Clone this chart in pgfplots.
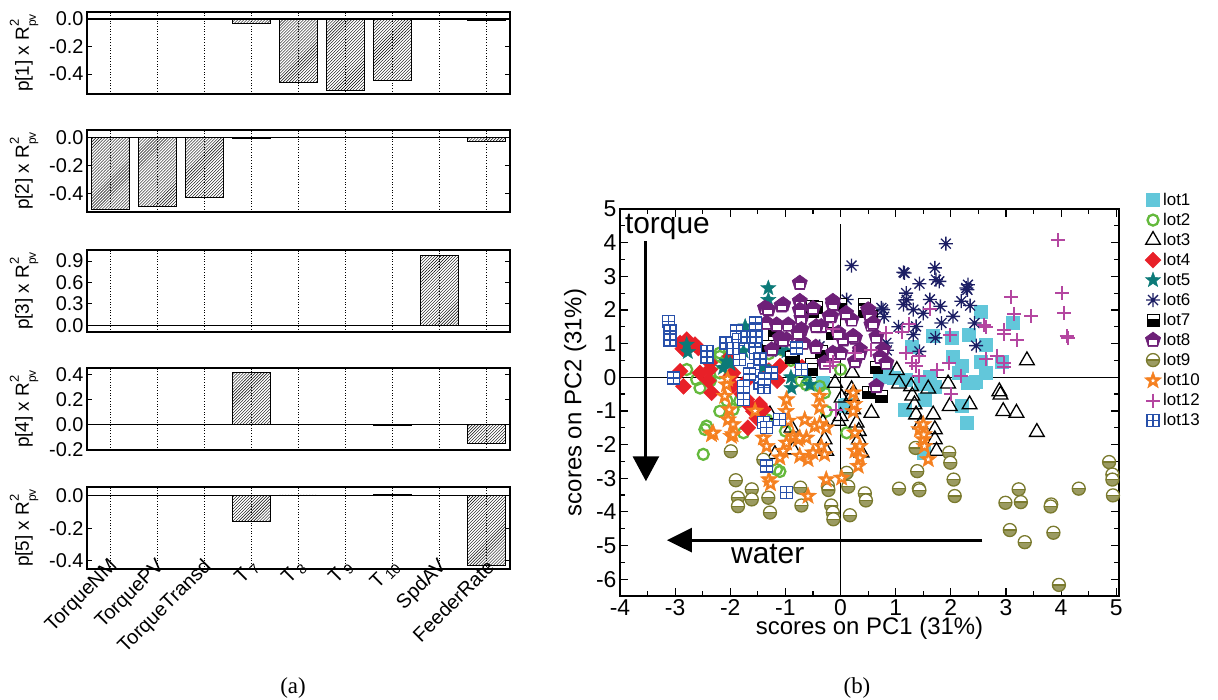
\documentclass[border=0pt]{standalone}
\usepackage{fontspec}
\setmainfont{Liberation Sans}
\newfontfamily\seriffont{Liberation Serif}
\usepackage{pgfplots}
\pgfplotsset{compat=1.18}
\usetikzlibrary{patterns,arrows.meta,plotmarks}

\definecolor{cyan1}{RGB}{98,199,218}
\definecolor{green2}{RGB}{100,185,60}
\definecolor{red4}{RGB}{232,32,40}
\definecolor{teal5}{RGB}{12,122,120}
\definecolor{navy6}{RGB}{28,30,100}
\definecolor{purple8}{RGB}{110,32,120}
\definecolor{olive9}{RGB}{122,122,46}
\definecolor{orange10}{RGB}{245,128,32}
\definecolor{mag12}{RGB}{180,70,160}
\definecolor{blue13}{RGB}{40,80,170}

\newcommand\lfont{\fontsize{20}{22}\selectfont}
\newcommand\llabfont{\fontsize{19}{21}\selectfont}

\newdimen\starr
\newcommand\starpath{%
 \pgfpathmoveto{\pgfqpoint{0pt}{\starr}}%
 \pgfpathlineto{\pgfqpoint{-0.247\starr}{0.340\starr}}%
 \pgfpathlineto{\pgfqpoint{-0.951\starr}{0.309\starr}}%
 \pgfpathlineto{\pgfqpoint{-0.399\starr}{-0.130\starr}}%
 \pgfpathlineto{\pgfqpoint{-0.588\starr}{-0.809\starr}}%
 \pgfpathlineto{\pgfqpoint{0pt}{-0.42\starr}}%
 \pgfpathlineto{\pgfqpoint{0.588\starr}{-0.809\starr}}%
 \pgfpathlineto{\pgfqpoint{0.399\starr}{-0.130\starr}}%
 \pgfpathlineto{\pgfqpoint{0.951\starr}{0.309\starr}}%
 \pgfpathlineto{\pgfqpoint{0.247\starr}{0.340\starr}}%
 \pgfpathclose}
\pgfdeclareplotmark{fstar}{\starr=\pgfplotmarksize\starpath\pgfusepathqfillstroke}
\pgfdeclareplotmark{ostar}{\starr=\pgfplotmarksize\starpath\pgfusepathqfillstroke
 \begin{pgfscope}\starr=0.26\pgfplotmarksize\starpath\pgfsetfillcolor{white}\pgfusepathqfill\end{pgfscope}}
\pgfdeclareplotmark{ast8}{%
 \pgfpathmoveto{\pgfqpoint{-\pgfplotmarksize}{0pt}}\pgfpathlineto{\pgfqpoint{\pgfplotmarksize}{0pt}}%
 \pgfpathmoveto{\pgfqpoint{0pt}{-\pgfplotmarksize}}\pgfpathlineto{\pgfqpoint{0pt}{\pgfplotmarksize}}%
 \pgfpathmoveto{\pgfqpoint{-0.707\pgfplotmarksize}{-0.707\pgfplotmarksize}}\pgfpathlineto{\pgfqpoint{0.707\pgfplotmarksize}{0.707\pgfplotmarksize}}%
 \pgfpathmoveto{\pgfqpoint{-0.707\pgfplotmarksize}{0.707\pgfplotmarksize}}\pgfpathlineto{\pgfqpoint{0.707\pgfplotmarksize}{-0.707\pgfplotmarksize}}%
 \pgfusepathqstroke}
\pgfdeclareplotmark{sqdiam}{%
 \pgfpathmoveto{\pgfqpoint{0pt}{\pgfplotmarksize}}%
 \pgfpathlineto{\pgfqpoint{\pgfplotmarksize}{0pt}}%
 \pgfpathlineto{\pgfqpoint{0pt}{-\pgfplotmarksize}}%
 \pgfpathlineto{\pgfqpoint{-\pgfplotmarksize}{0pt}}%
 \pgfpathclose\pgfusepathqfillstroke}
\pgfdeclareplotmark{boxplus}{%
 \pgfpathrectangle{\pgfqpoint{-\pgfplotmarksize}{-\pgfplotmarksize}}{\pgfqpoint{2\pgfplotmarksize}{2\pgfplotmarksize}}%
 \pgfusepathqfillstroke
 \pgfpathmoveto{\pgfqpoint{-\pgfplotmarksize}{0pt}}\pgfpathlineto{\pgfqpoint{\pgfplotmarksize}{0pt}}%
 \pgfpathmoveto{\pgfqpoint{0pt}{-\pgfplotmarksize}}\pgfpathlineto{\pgfqpoint{0pt}{\pgfplotmarksize}}%
 \pgfusepathqstroke}
\pgfdeclareplotmark{hsq}{%
 \begin{pgfscope}\pgfsetfillcolor{white}%
 \pgfpathrectangle{\pgfqpoint{-\pgfplotmarksize}{-\pgfplotmarksize}}{\pgfqpoint{2\pgfplotmarksize}{2\pgfplotmarksize}}%
 \pgfusepathqfillstroke\end{pgfscope}%
 \pgfpathrectangle{\pgfqpoint{-\pgfplotmarksize}{-\pgfplotmarksize}}{\pgfqpoint{2\pgfplotmarksize}{1.25\pgfplotmarksize}}%
 \pgfusepathqfill}
\pgfdeclareplotmark{pentw}{%
 \pgfpathmoveto{\pgfqpoint{0pt}{\pgfplotmarksize}}%
 \pgfpathlineto{\pgfqpoint{-0.951\pgfplotmarksize}{0.309\pgfplotmarksize}}%
 \pgfpathlineto{\pgfqpoint{-0.588\pgfplotmarksize}{-0.809\pgfplotmarksize}}%
 \pgfpathlineto{\pgfqpoint{0.588\pgfplotmarksize}{-0.809\pgfplotmarksize}}%
 \pgfpathlineto{\pgfqpoint{0.951\pgfplotmarksize}{0.309\pgfplotmarksize}}%
 \pgfpathclose\pgfusepathqfillstroke
 \begin{pgfscope}\pgfsetfillcolor{white}%
 \pgfpathrectangle{\pgfqpoint{-0.5\pgfplotmarksize}{-0.6\pgfplotmarksize}}{\pgfqpoint{1.0\pgfplotmarksize}{0.55\pgfplotmarksize}}%
 \pgfusepathqfill\end{pgfscope}}
\pgfdeclareplotmark{hcirc}{%
 \begin{pgfscope}\pgfsetfillcolor{white}%
 \pgfpathcircle{\pgfpointorigin}{\pgfplotmarksize}\pgfusepathqfill\end{pgfscope}%
 \begin{pgfscope}%
 \pgfpathrectangle{\pgfqpoint{-\pgfplotmarksize}{-\pgfplotmarksize}}{\pgfqpoint{2\pgfplotmarksize}{\pgfplotmarksize}}\pgfusepath{clip}%
 \pgfsetfillcolor{olive9!75}%
 \pgfpathcircle{\pgfpointorigin}{\pgfplotmarksize}\pgfusepathqfill\end{pgfscope}%
 \pgfpathcircle{\pgfpointorigin}{\pgfplotmarksize}\pgfusepathqstroke
 \pgfpathmoveto{\pgfqpoint{-\pgfplotmarksize}{0pt}}\pgfpathlineto{\pgfqpoint{\pgfplotmarksize}{0pt}}\pgfusepathqstroke}

\newcommand\Rpv{R\rlap{\raisebox{1.0ex}{\fontsize{13}{13}\selectfont 2}}\raisebox{-0.7ex}{\fontsize{12}{12}\selectfont pv}}
\newcommand\plab[1]{{\llabfont p[#1] x \Rpv}}

\pgfplotsset{
  lpanel/.style={
    scale only axis, width=423bp, height=82bp, anchor=north west,
    xmin=0.5, xmax=9.5, xtick={1,...,9}, xticklabels={},
    ybar, bar width=0.8,
    xmajorgrids, major grid style={line width=0.7bp, dotted, black},
    axis line style={line width=1.6bp},
    tick align=inside, major tick length=5bp,
    tick style={line width=0.9bp, black},
    xtick style={draw=none},
    ylabel style={at={(axis description cs:-0.149,0.5)}, anchor=center},
    yticklabel={\lfont\pgfmathprintnumber[fixed,fixed zerofill,precision=1,assume math mode=true]{\tick}},
  },
  hbar/.style={draw=black, line width=0.7bp, pattern=north east lines, pattern color=black},
}

\begin{document}
\begin{tikzpicture}
\path[use as bounding box] (0,0) rectangle (1218bp,-700bp);

% ---------- panel a ----------
\begin{axis}[lpanel, at={(87bp,-12bp)}, ymin=-0.545, ymax=0.05, ytick={-0.4,-0.2,0}, ylabel={\plab{1}}]
\draw[line width=1.4bp] (0.5,0) -- (9.5,0);
\addplot[hbar] coordinates {(4,-0.031) (5,-0.46) (6,-0.52) (7,-0.446) (9,-0.01)};
\end{axis}
\begin{axis}[lpanel, at={(87bp,-130bp)}, ymin=-0.536, ymax=0.056, ytick={-0.4,-0.2,0}, ylabel={\plab{2}}]
\draw[line width=1.4bp] (0.5,0) -- (9.5,0);
\addplot[hbar] coordinates {(1,-0.517) (2,-0.498) (3,-0.43) (4,-0.004) (9,-0.024)};
\end{axis}
\begin{axis}[lpanel, at={(87bp,-250bp)}, ymin=-0.094, ymax=1.055, ytick={0,0.3,0.6,0.9}, ylabel={\plab{3}}]
\draw[line width=1.4bp] (0.5,0) -- (9.5,0);
\addplot[hbar] coordinates {(8,0.976)};
\end{axis}
\begin{axis}[lpanel, at={(87bp,-368bp)}, ymin=-0.204, ymax=0.454, ytick={-0.2,0,0.2,0.4}, ylabel={\plab{4}}]
\draw[line width=1.4bp] (0.5,0) -- (9.5,0);
\addplot[hbar] coordinates {(4,0.42) (7,-0.005) (9,-0.152)};
\end{axis}
\begin{axis}[lpanel, at={(87bp,-487bp)}, ymin=-0.451, ymax=0.053, ytick={-0.4,-0.2,0}, ylabel={\plab{5}},
  xticklabels={TorqueNM,TorquePV,TorqueTransd,T\,\textsubscript{7},T\,\textsubscript{8},T\,\textsubscript{9},T\,\textsubscript{10},SpdAV,FeederRate},
  xticklabel style={font=\fontsize{20}{22}\selectfont, rotate=45, anchor=east, xshift=10bp, yshift=1bp}]
\draw[line width=1.4bp] (0.5,0) -- (9.5,0);
\addplot[hbar] coordinates {(4,-0.155) (5,0.004) (7,0.005) (9,-0.428)};
\end{axis}

% ---------- panel b ----------
\begin{axis}[at={(620bp,-209bp)}, anchor=north west, scale only axis, width=499bp, height=387bp,
  xmin=-4, xmax=5.05, ymin=-6.5, ymax=5,
  xtick={-4,...,5}, ytick={-6,...,5}, minor x tick num=1, minor y tick num=1,
  tick align=inside, major tick length=8bp, minor tick length=5bp,
  tick style={line width=1.2bp, black},
  axis line style={line width=1.8bp},
  ticklabel style={font=\fontsize{23}{24}\selectfont},
  /pgf/number format/assume math mode=true,
  xlabel={scores on PC1 (31\%)}, ylabel={scores on PC2 (31\%)},
  label style={font=\fontsize{24}{26}\selectfont},
  xlabel style={at={(axis description cs:0.5,-0.083)}, anchor=center},
  ylabel style={at={(axis description cs:-0.09,0.5)}, anchor=center},
  legend style={at={(axis description cs:1.051,1.045)}, anchor=north west, draw=none, fill=none,
    inner sep=0pt, outer sep=0pt, row sep=3bp, font=\fontsize{17}{18}\selectfont,
    nodes={inner sep=1.5bp, text height=12bp, text depth=2bp}},
  legend cell align=left,
  only marks,
]
\draw[line width=1bp] (-4,0) -- (5.05,0);
\draw[line width=1bp] (0,-6.5) -- (0,4.55);
\node[font=\fontsize{30}{30}\selectfont] at (-3.14,4.48) {torque};
\node[font=\fontsize{30}{30}\selectfont] at (-1.32,-5.26) {water};
\draw[line width=3bp, -{Triangle[length=25bp,width=26bp]}] (-3.53,4.04) -- (-3.53,-3.09);
\draw[line width=3bp, -{Triangle[length=25bp,width=24bp]}] (2.57,-4.84) -- (-3.15,-4.84);

\addplot[mark=square*, mark size=6.5bp, draw=cyan1, fill=cyan1, mark options={line width=0.5bp}] coordinates {
(2.55,1.96) (2.01,1.17) (2.33,1.27) (2.63,0.97) (1.68,1.22) (2.04,0.62) (2.15,0.13) (2.40,-0.17) (2.64,0.13) (2.55,0.47)
(1.62,0.03) (1.71,-0.27) (1.53,-0.66) (1.19,-0.07) (2.19,-0.86) (1.16,-0.96) (3.13,1.61) (2.92,0.47) (2.19,0.33) (2.46,-0.12)
(2.31,-0.17) (2.28,-1.35) (0.83,0.13) (0.71,0.03) (0.08,-0.86) (0.96,0.00) (1.50,-2.24) (-0.32,-0.16) (0.11,-0.81) (1.30,0.90) (1.45,-0.20)};
\addlegendentry{lot1}
\addplot[mark=o, mark size=5.5bp, draw=green2, mark options={line width=2.3bp}] coordinates {
(-2.79,0.23) (-2.61,-0.07) (-2.55,-0.32) (-2.19,0.62) (-2.19,0.13) (-2.08,0.50) (-2.43,-1.45) (-1.95,-0.96) (-2.06,-0.70) (-2.19,0.72)
(-2.36,-0.10) (-2.49,-2.29) (-1.83,-0.71) (-1.76,-1.65) (-1.34,-1.26) (-1.16,-2.74) (-1.10,-2.80) (-1.30,0.70) (-1.07,0.82) (-0.90,0.50)
(-0.72,-0.10) (-0.38,-0.27) (-0.29,-0.46) (-0.26,-1.01) (0.11,-1.65) (-0.10,0.72) (0.00,0.23) (-2.46,-1.55) (-2.19,-1.01) (-0.62,-0.22) (-1.00,-1.60)};
\addlegendentry{lot2}
\addplot[mark=triangle, mark size=8.5bp, draw=black, mark options={line width=1.3bp}] coordinates {
(1.02,0.21) (1.06,-0.19) (1.28,-0.27) (1.59,-0.34) (1.95,-0.19) (2.34,-0.81) (1.98,-0.86) (1.34,-0.81) (1.68,-1.11) (2.88,-0.42)
(2.90,-0.52) (2.95,-1.01) (3.19,-1.06) (3.38,0.50) (1.37,-1.11) (1.71,-1.55) (1.71,-1.85) (1.74,-2.19) (3.56,-1.63) (-0.10,-0.17)
(0.00,-1.16) (0.20,-0.36) (0.20,-0.56) (0.23,-0.96) (0.56,-1.06) (0.29,-1.35) (0.33,-1.60) (0.33,-1.85) (0.38,-2.24) (-0.32,-1.35)
(-0.29,-1.85) (-0.26,-2.19) (-0.89,-1.50) (-1.28,-1.11) (-0.86,-2.15) (-1.19,-2.29) (0.02,-0.61) (0.21,0.13) (1.30,-0.55) (1.45,-1.40) (-0.04,-1.30)};
\addlegendentry{lot3}
\addplot[mark=sqdiam, mark size=8bp, draw=red4, fill=red4, mark options={line width=0.4bp}] coordinates {
(-2.79,1.12) (-2.64,0.97) (-2.86,0.85) (-2.91,0.18) (-2.85,-0.27) (-2.55,0.13) (-2.34,-0.46) (-1.95,0.13) (-1.95,-0.25) (-1.64,-0.86)
(-1.52,-1.21) (-2.00,0.62) (-2.37,0.43) (-2.91,1.02) (-2.73,0.92) (-2.58,0.87) (-2.37,0.23) (-2.40,-0.10) (-2.00,0.03) (-1.70,-0.10)
(-1.70,-0.66) (-1.40,-0.96) (-1.68,-1.50) (-1.10,0.33) (-0.70,0.30) (-1.58,-1.01) (-1.79,-0.50) (-1.47,-0.80) (-1.30,0.20) (-1.15,-0.10)};
\addlegendentry{lot4}
\addplot[mark=fstar, mark size=8bp, draw=teal5, fill=teal5, mark options={line width=0.4bp}] coordinates {
(-1.31,2.65) (-1.31,2.30) (-2.79,0.97) (-2.77,0.75) (-2.07,0.47) (-2.00,0.40) (-0.89,-0.32) (-0.56,-0.22) (-0.90,0.00) (-1.10,0.80)
(-2.13,0.28) (-1.76,0.77) (-1.73,1.51) (-0.98,0.77) (-0.60,0.10) (-1.40,0.30)};
\addlegendentry{lot5}
\addplot[mark=ast8, mark size=7bp, draw=navy6, mark options={line width=1.3bp}] coordinates {
(1.91,3.97) (1.14,3.12) (1.71,3.25) (1.79,2.85) (1.43,2.78) (1.19,2.50) (1.20,2.30) (2.31,2.75) (2.30,2.60) (1.62,2.31)
(1.14,2.16) (1.32,2.01) (1.81,2.11) (2.04,1.81) (2.35,2.13) (2.19,2.26) (2.43,1.61) (1.83,1.61) (1.37,1.51) (1.32,1.27)
(1.72,1.17) (2.46,0.94) (1.43,0.77) (0.77,2.01) (0.83,1.02) (0.84,0.80) (0.20,3.32) (0.11,2.31) (0.74,2.06) (2.28,2.65)
(1.73,2.90) (1.16,3.10) (0.79,1.80) (-0.38,0.92) (1.05,1.50) (1.50,1.90)};
\addlegendentry{lot6}
\addplot[mark=hsq, mark size=6bp, draw=black, fill=black, mark options={line width=1bp}] coordinates {
(-0.50,2.11) (-0.50,1.96) (0.44,2.16) (0.43,1.96) (0.00,2.16) (-0.35,0.77) (-0.86,0.62) (-0.53,0.38) (0.65,0.28) (0.50,-0.46)
(-0.44,2.06) (-1.19,1.37) (-0.89,0.58) (-0.53,0.23) (-1.19,1.02) (0.62,-0.46) (0.74,-0.56) (0.56,1.80) (-0.15,1.30) (-1.30,0.90)};
\addlegendentry{lot7}
\addplot[mark=pentw, mark size=8bp, draw=purple8, fill=purple8, mark options={line width=0.6bp}] coordinates {
(-0.74,2.80) (-1.04,2.16) (-0.74,2.26) (-0.14,2.26) (-0.17,1.81) (-0.35,1.51) (-0.71,1.76) (-0.95,1.56) (-0.71,1.42) (-0.98,1.12)
(-0.68,1.02) (-0.29,0.43) (0.05,1.12) (0.20,1.71) (0.26,1.17) (0.50,2.01) (0.56,1.56) (0.77,0.82) (0.35,0.82) (0.26,0.47)
(-0.14,0.72) (0.65,-0.27) (-0.04,1.32) (0.65,1.20) (0.72,0.60) (-1.37,2.06) (-1.07,2.13) (-0.74,2.00) (-1.34,1.61) (-1.10,1.17)
(-0.77,1.32) (-0.44,1.51) (-0.14,2.16) (-0.20,1.81) (0.00,0.72) (0.23,1.22) (0.35,0.72) (0.53,1.86) (0.59,1.61) (0.83,0.43)
(-1.31,2.01) (-1.25,0.82) (-1.05,1.10) (-1.16,1.56) (-0.45,0.90) (0.10,1.90) (-0.50,2.05)};
\addlegendentry{lot8}
\addplot[mark=hcirc, mark size=6.5bp, draw=olive9, mark options={line width=1.3bp}] coordinates {
(-1.99,-2.20) (-1.40,-2.45) (-1.90,-3.06) (-1.61,-3.33) (-1.86,-3.58) (-1.86,-3.83) (-1.61,-3.63) (-1.31,-3.58) (-1.28,-4.02) (-0.73,-3.28)
(-0.71,-3.81) (-0.23,-3.23) (-0.22,-3.35) (-0.17,-3.81) (-0.14,-4.02) (-0.13,-4.22) (0.17,-4.10) (0.11,-2.84) (0.14,-3.25) (0.44,-3.45)
(0.46,-3.66) (1.36,-2.10) (1.97,-2.24) (1.99,-2.54) (1.39,-2.79) (2.05,-3.04) (1.06,-3.31) (1.42,-3.31) (1.43,-3.36) (2.07,-3.53)
(3.23,-3.33) (2.99,-3.73) (3.27,-3.71) (3.82,-3.78) (3.81,-3.84) (4.32,-3.31) (4.87,-2.52) (4.93,-2.89) (4.93,-3.04) (4.94,-3.51)
(3.07,-4.54) (3.34,-4.90) (3.86,-4.62) (3.96,-6.17)};
\addlegendentry{lot9}
\addplot[mark=ostar, mark size=9bp, draw=orange10, fill=orange10, mark options={line width=0.4bp}] coordinates {
(-2.07,-0.22) (-2.10,-0.56) (-2.02,-0.96) (-2.04,-1.26) (-1.95,-1.40) (-2.34,-1.70) (-1.98,-1.75) (-2.31,-1.65) (-1.95,-1.70) (-0.98,-0.66)
(-0.99,-1.01) (-0.95,-1.30) (-0.65,-1.26) (-0.47,-1.45) (-0.26,-1.50) (-0.62,-1.80) (-0.77,-1.85) (-0.98,-1.95) (-1.04,-2.19) (-1.10,-2.39)
(-0.74,-2.34) (-0.59,-2.44) (-0.35,-2.05) (-0.29,-2.29) (-0.26,-3.04) (0.02,-2.99) (-1.30,-3.04) (-1.27,-3.16) (-0.59,-3.53) (0.23,-0.46)
(0.23,-1.01) (0.26,-1.65) (0.26,-2.19) (0.35,-2.39) (0.32,-2.64) (0.35,-2.05) (-0.86,-1.75) (-0.74,-1.80) (-0.38,-1.40) (-0.50,-2.24)
(-0.38,-0.56) (-0.38,-0.90) (-1.34,-2.05) (-1.40,-1.80) (0.25,-0.80) (1.43,-1.55) (1.50,-1.85) (1.51,-1.70) (1.59,-2.44) (1.50,-1.40)
(1.52,-2.05) (-2.05,-0.05) (-1.55,-1.00)};
\addlegendentry{lot10}
\addplot[mark=+, mark size=7bp, draw=mag12, mark options={line width=2bp}] coordinates {
(3.94,4.07) (4.02,2.50) (4.06,1.91) (4.10,1.22) (4.12,1.17) (3.10,2.39) (3.15,1.88) (3.46,1.81) (2.97,1.41) (2.96,1.30)
(3.20,1.10) (2.63,1.50) (2.83,0.64) (2.64,0.53) (2.97,0.43) (2.97,0.30) (1.63,2.03) (1.98,1.27) (1.24,1.59) (1.12,1.34)
(1.18,0.72) (1.43,0.62) (1.29,0.43) (1.97,0.41) (1.75,0.21) (2.19,0.05) (1.43,0.05) (2.01,-0.51) (-0.14,0.45) (0.26,0.72)
(0.56,0.82) (-0.08,-0.96) (-0.14,1.42) (0.83,1.32) (1.37,0.33) (-0.20,0.33) (2.60,1.55)};
\addlegendentry{lot12}
\addplot[mark=boxplus, mark size=6bp, draw=blue13, fill=white, mark options={line width=1.5bp}] coordinates {
(-3.12,1.66) (-3.09,1.37) (-3.09,1.10) (-3.03,-0.02) (-2.42,0.77) (-2.42,0.60) (-2.08,1.02) (-1.89,1.37) (-1.85,1.12) (-1.83,0.53)
(-1.54,1.61) (-1.54,1.40) (-1.55,0.92) (-1.54,0.70) (-1.58,0.23) (-1.76,-0.27) (-1.76,-0.66) (-1.46,-0.17) (-1.39,-0.30) (-1.40,-1.35)
(-1.11,-1.26) (-1.70,1.20) (-1.53,1.20) (-1.25,0.13) (-0.80,0.87) (-0.71,0.23) (-1.34,-1.50) (-1.34,-2.64) (-1.46,0.55) (-1.38,-0.05)
(-0.98,-3.43) (-1.65,0.10) (-1.95,0.85)};
\addlegendentry{lot13}
\end{axis}

\node[font=\seriffont\fontsize{23}{24}\selectfont] at (293bp,-688bp) {(a)};
\node[font=\seriffont\fontsize{23}{24}\selectfont] at (857bp,-688bp) {(b)};
\end{tikzpicture}
\end{document}
